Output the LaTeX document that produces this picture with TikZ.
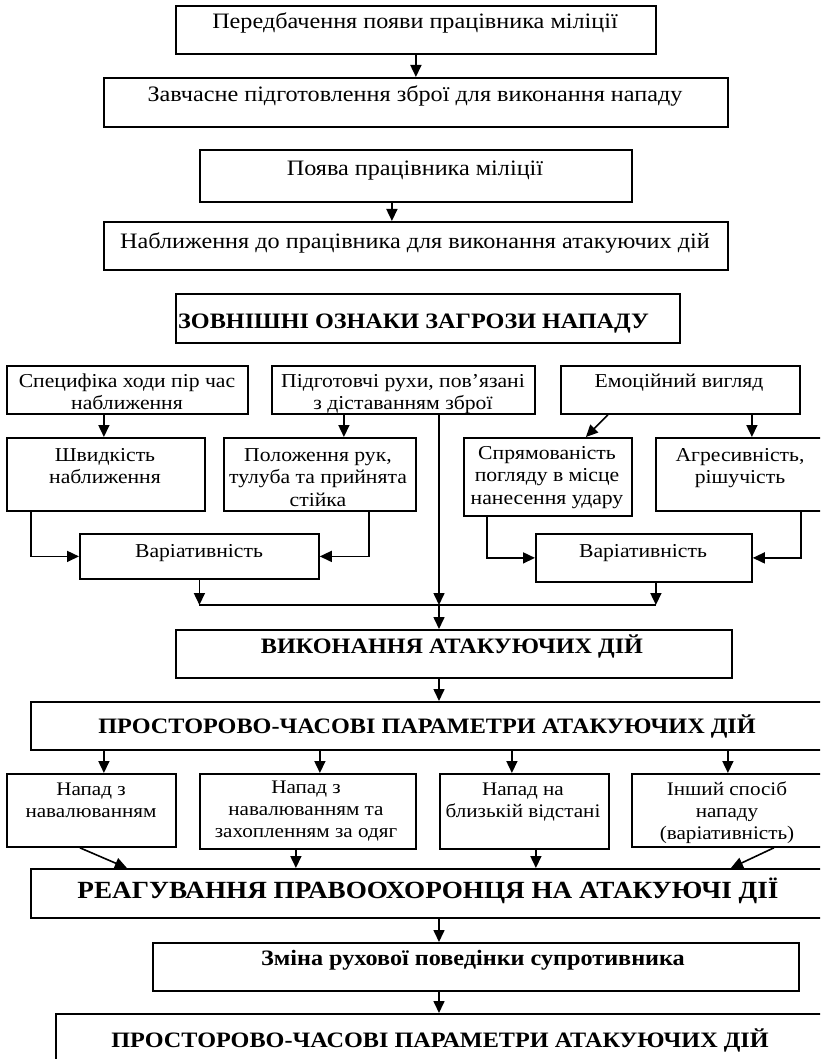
\documentclass[tikz,border=0pt]{standalone}
\usepackage{fontspec}
\setmainfont{Liberation Serif}[BoldFont={Liberation Serif Bold}, FakeStretch=1.1]
\usetikzlibrary{arrows.meta}
\begin{document}
\begin{tikzpicture}[x=1pt,y=-1pt,
  box/.style={draw, line width=1.8pt, rectangle, inner sep=0pt, anchor=north west},
  arr/.style={line width=1.6pt, -{Triangle[length=12pt,width=11pt]}},
  ln/.style={line width=1.6pt},
  txt/.style={inner sep=0pt, anchor=base, align=center, font=\fontsize{19.7}{22.5}\selectfont},
  big/.style={txt, font=\fontsize{22}{23}\selectfont},
  sml/.style={txt, font=\fontsize{19.2}{22}\selectfont},
  hd/.style={inner sep=0pt, anchor=base, font=\bfseries\fontsize{22}{24}\selectfont},
  hdl/.style={inner sep=0pt, anchor=base, font=\bfseries\fontsize{24.7}{27}\selectfont},
  hds/.style={inner sep=0pt, anchor=base, font=\bfseries\fontsize{22}{24}\selectfont}
]
\useasboundingbox (0,0) rectangle (820,1059);
\clip (0,0) rectangle (820,1059);
\fill[white] (0,0) rectangle (820,1059);
% boxes
\node[box, minimum width=480pt, minimum height=48pt] (b1) at (175,5) {};
\node[box, minimum width=624pt, minimum height=49pt] (b2) at (103,77) {};
\node[box, minimum width=432pt, minimum height=52pt] (b3) at (199,149) {};
\node[box, minimum width=624pt, minimum height=48pt] (b4) at (103,221) {};
\node[box, minimum width=504pt, minimum height=49pt] (b5) at (175,293) {};
\node[box, minimum width=241pt, minimum height=48pt] (spec) at (6,365) {};
\node[box, minimum width=263pt, minimum height=48pt] (pidg) at (271,365) {};
\node[box, minimum width=239pt, minimum height=48pt] (emo) at (560,365) {};
\node[box, minimum width=198pt, minimum height=73pt] (shv) at (6,437) {};
\node[box, minimum width=192pt, minimum height=73pt] (pol) at (223,437) {};
\node[box, minimum width=168pt, minimum height=78pt] (spr) at (463,437) {};
\node[box, minimum width=170pt, minimum height=73pt] (agr) at (655,437) {};
\node[box, minimum width=239pt, minimum height=45pt] (varL) at (79,533) {};
\node[box, minimum width=216pt, minimum height=48pt] (varR) at (535,533) {};
\node[box, minimum width=556pt, minimum height=48pt] (vyk) at (175,629) {};
\node[box, minimum width=795pt, minimum height=48pt] (prost) at (30,701) {};
\node[box, minimum width=169pt, minimum height=73pt] (n1) at (6,773) {};
\node[box, minimum width=216pt, minimum height=75pt] (n2) at (199,773) {};
\node[box, minimum width=169pt, minimum height=75pt] (n3) at (439,773) {};
\node[box, minimum width=192pt, minimum height=73pt] (n4) at (631,773) {};
\node[box, minimum width=796pt, minimum height=49pt] (reag) at (30,868) {};
\node[box, minimum width=646pt, minimum height=48pt] (zmina) at (152,942) {};
\node[box, minimum width=770pt, minimum height=60pt] (last) at (55,1013) {};
% texts
\node[big] (t1) at (415,29) {Передбачення появи працівника міліції};
\node[big] (t2) at (415,102) {Завчасне підготовлення зброї для виконання нападу};
\node[big] (t3) at (415,176) {Поява працівника міліції};
\node[big] (t4) at (415,248) {Наближення до працівника для виконання атакуючих дій};
\node[hd, anchor=base west] (t5) at (178,328) {ЗОВНІШНІ ОЗНАКИ ЗАГРОЗИ НАПАДУ};
\node[txt] (tspec) at (127,409.5) {Специфіка ходи пір час\\наближення};
\node[txt] (tpidg) at (403,409.5) {Підготовчі рухи, пов’язані\\з діставанням зброї};
\node[txt] (temo) at (679,387) {Емоційний вигляд};
\node[txt] (tshv) at (105,483.5) {Швидкість\\наближення};
\node[txt] (tpol) at (318,506) {Положення рук,\\тулуба та прийнята\\стійка};
\node[txt] (tspr) at (547,504) {Спрямованість\\погляду в місце\\нанесення удару};
\node[txt] (tagr) at (740,483.5) {Агресивність,\\рішучість};
\node[txt] (tvarL) at (199,557) {Варіативність};
\node[txt] (tvarR) at (643,557) {Варіативність};
\node[hd] (tvyk) at (452,653) {ВИКОНАННЯ АТАКУЮЧИХ ДІЙ};
\node[hd] (tprost) at (427,733) {ПРОСТОРОВО-ЧАСОВІ ПАРАМЕТРИ АТАКУЮЧИХ ДІЙ};
\node[sml] (tn1) at (91,817) {Напад з\\навалюванням};
\node[sml] (tn2) at (306,837) {Напад з\\навалюванням та\\захопленням за одяг};
\node[sml] (tn3) at (523,817) {Напад на\\близькій відстані};
\node[sml] (tn4) at (727,839) {Інший спосіб\\нападу\\(варіативність)};
\node[hdl] (treag) at (428,898) {РЕАГУВАННЯ ПРАВООХОРОНЦЯ НА АТАКУЮЧІ ДІЇ};
\node[hds] (tzmina) at (473,965) {Зміна рухової поведінки супротивника};
\node[hd] (tlast) at (440,1047) {ПРОСТОРОВО-ЧАСОВІ ПАРАМЕТРИ АТАКУЮЧИХ ДІЙ};
% connectors
\draw[arr] (b1.south) -- (b2.north);
\draw[arr] ([xshift=-24pt]b3.south) -- ([xshift=-24pt]b4.north);
\draw[arr] ([xshift=-23.5pt]spec.south) -- ([xshift=-2pt]shv.north);
\draw[arr] ([xshift=-59.5pt]pidg.south) -- ([xshift=24pt]pol.north);
\draw[arr] ([xshift=-72.5pt]emo.south) -- ([xshift=38pt]spr.north);
\draw[arr] ([xshift=71.5pt]emo.south) -- ([xshift=11pt]agr.north);
\draw[arr] ([xshift=-75pt]shv.south) |- (varL.west);
\draw[arr] ([xshift=49pt]pol.south) |- (varL.east);
\draw[arr] ([xshift=-61pt]spr.south) |- (varR.west);
\draw[arr] ([xshift=60pt]agr.south) |- (varR.east);
\coordinate (jc) at (439,605);
\draw[arr] (varL.south) -- (varL.south |- jc);
\draw[arr] ([xshift=12pt]varR.south) -- ([xshift=12pt]varR.south |- jc);
\draw[arr] (pidg.south -| jc) -- (jc);
\draw[ln] (varL.south |- jc) -- ([xshift=12pt]varR.south |- jc);
\draw[arr] (jc) -- (jc |- vyk.north);
\draw[arr] (vyk.south -| jc) -- (prost.north -| jc);
\draw[arr] ([xshift=-324.5pt]prost.south) -- ([xshift=12.5pt]n1.north);
\draw[arr] ([xshift=-108.5pt]prost.south) -- ([xshift=12pt]n2.north);
\draw[arr] ([xshift=83.5pt]prost.south) -- ([xshift=-12.5pt]n3.north);
\draw[arr] ([xshift=299.5pt]prost.south) -- (n4.north);
\draw[arr] ([xshift=-11.5pt]n1.south) -- ([xshift=-302pt]reag.north);
\draw[arr] ([xshift=-12pt]n2.south) -- ([xshift=-133pt]reag.north);
\draw[arr] ([xshift=11.5pt]n3.south) -- ([xshift=107pt]reag.north);
\draw[arr] ([xshift=46pt]n4.south) -- ([xshift=302pt]reag.north);
\draw[arr] (reag.south -| jc) -- (zmina.north -| jc);
\draw[arr] (zmina.south -| jc) -- (last.north -| jc);
\end{tikzpicture}
\end{document}
